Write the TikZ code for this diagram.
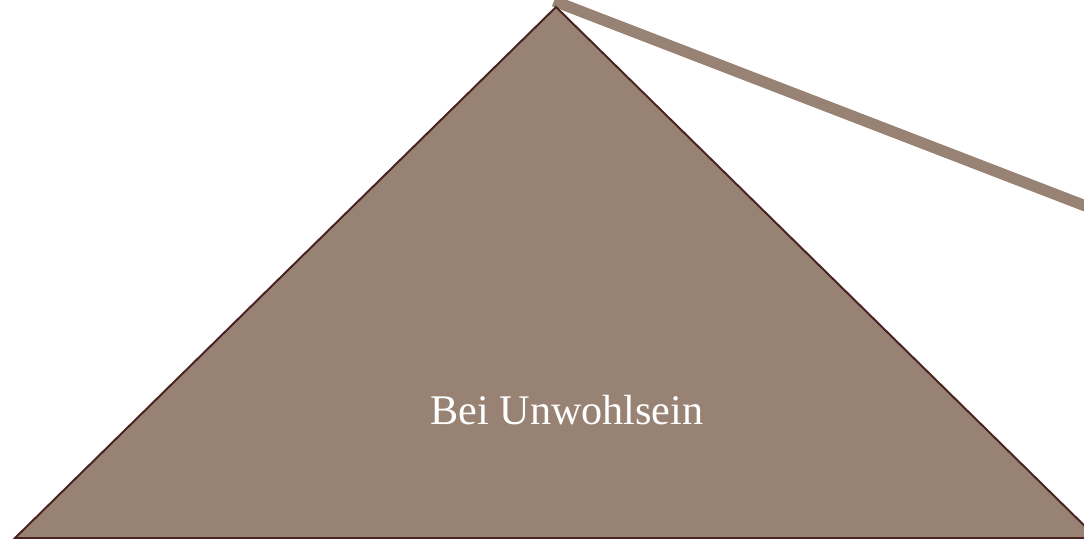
\documentclass[tikz,border=0pt]{standalone}
\usepackage{fontspec}
\setmainfont{Liberation Serif}
\usepackage{tikz}
\usetikzlibrary{positioning}
\definecolor{pyramidfill}{HTML}{978273}
\definecolor{pyramidedge}{HTML}{4B2222}

\begin{document}
\begin{tikzpicture}[x=0.025cm, y=-0.025cm, every node/.style={font=\fontsize{30}{36}\selectfont}]
    \useasboundingbox (0,0) rectangle (1084,539);

    % Corners
    \coordinate (apex) at (556,7);
    \coordinate (left) at (15,538);
    \coordinate (right) at (1097,538);
    \coordinate (start) at (554,1);
    \coordinate (far) at (1140,227);

    % Line
    \begin{scope}
        \clip (0,0) rectangle (1084,539);
        \draw[line width=8pt, color=pyramidfill] (start) -- (far);
        \draw[fill=pyramidfill, draw=pyramidedge, line width=1.4pt] (apex) -- (left) -- (right) -- cycle;
    \end{scope}

    % Label
    \node[text=white] (label) at (567,410) {Bei Unwohlsein};
\end{tikzpicture}
\end{document}
